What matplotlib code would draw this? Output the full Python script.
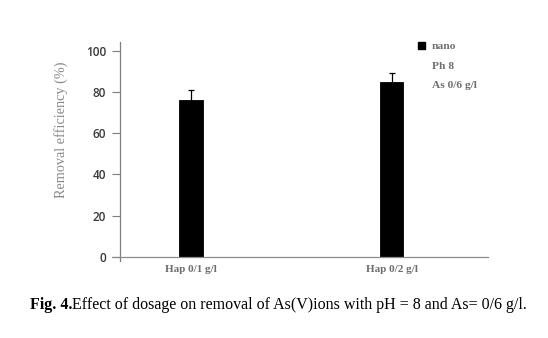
import matplotlib
matplotlib.use("Agg")
import matplotlib.pyplot as plt
from matplotlib.patches import Patch

# Data
categories = ["Hap 0/1 g/l", "Hap 0/2 g/l"]
removal = [76, 85]
errors = [5, 4]
y_ticks = [0, 20, 40, 60, 80, 100]
legend_labels = ["nano", "Ph 8", "As 0/6 g/l"]
caption_bold = "Fig. 4."
caption_rest = "Effect of dosage on removal of As(V)ions with pH = 8 and As= 0/6 g/l."

W, H = 548, 338
fig = plt.figure(figsize=(W / 100, H / 100), dpi=100)
fig.patch.set_facecolor("white")

ax = fig.add_axes([120 / W, 1 - 261.1 / H, 368 / W, (261.1 - 42.4) / H])
x = list(range(len(categories)))
ax.bar(x, removal, width=0.117, color="black", edgecolor="black", linewidth=0.6,
       yerr=errors, error_kw=dict(ecolor="black", elinewidth=0.9, capsize=2.5, capthick=0.9))

ax.set_xlim(-0.354, 1.481)
ax.set_ylim(-2, 104)

for s in ("top", "right"):
    ax.spines[s].set_visible(False)
ax.spines["left"].set_color("#7f7f7f")
ax.spines["left"].set_linewidth(0.9)
ax.spines["bottom"].set_position(("data", 0))
ax.spines["bottom"].set_bounds(-0.394, 1.481)
ax.spines["bottom"].set_color("#8c8c8c")
ax.spines["bottom"].set_linewidth(0.9)

ax.set_yticks(y_ticks)
ax.set_yticklabels([str(v) for v in y_ticks], fontfamily="Open Sans", fontsize=8.5,
                   fontweight="semibold", color="#3a3a3a")
ax.tick_params(axis="y", direction="out", length=6, width=0.8, color="#7f7f7f", pad=4)

ax.set_xticks(x)
ax.set_xticklabels(categories, fontfamily="Liberation Serif", fontsize=8,
                   fontweight="bold", color="#6e6e6e")
ax.tick_params(axis="x", length=0, pad=6)

ax.set_ylabel("Removal efficiency (%)", fontfamily="Liberation Serif", fontsize=10.3,
              color="#8a8a8a")
ax.yaxis.set_label_coords(-0.141, 0.6)

handles = [Patch(facecolor="black", edgecolor="black"),
           Patch(facecolor="none", edgecolor="none"),
           Patch(facecolor="none", edgecolor="none")]
leg = ax.legend(handles, legend_labels, loc="upper left", bbox_to_anchor=(0.783, 1.05),
                frameon=False, handlelength=0.6, handleheight=0.6, handletextpad=0.6,
                labelspacing=0.85,
                prop=dict(family="Liberation Serif", size=8.2, weight="bold"))
for t in leg.get_texts():
    t.set_color("#6e6e6e")

# Figure caption: bold number followed by regular text
t1 = fig.text(30 / W, 1 - 305 / H, caption_bold, fontfamily="Liberation Serif",
              fontsize=11.5, fontweight="bold", va="center", ha="left", color="black")
fig.canvas.draw()
bb = t1.get_window_extent()
fig.text(bb.x1 / W, 1 - 305 / H, caption_rest, fontfamily="Liberation Serif",
         fontsize=11.5, va="center", ha="left", color="black")

fig.savefig("out.png", dpi=100, facecolor="white")
